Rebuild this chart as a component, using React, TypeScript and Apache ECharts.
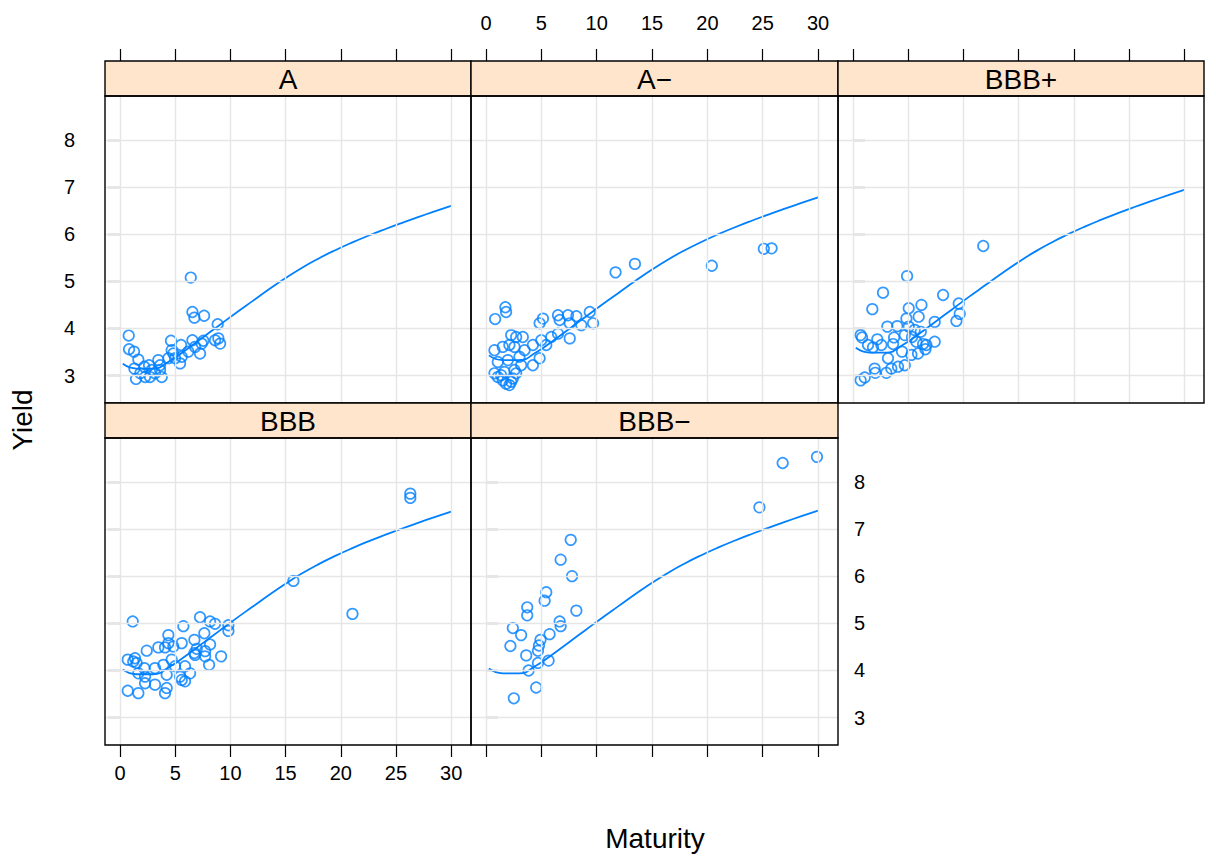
import React, { useEffect, useRef } from "react";
import * as echarts from "echarts";

// ---- data ----
const panelNames = ["A", "A\u2212", "BBB+", "BBB", "BBB\u2212"];
const xTicks = [0, 5, 10, 15, 20, 25, 30];
const yTicks = [3, 4, 5, 6, 7, 8];

const pointsA: [number, number][] = [
  [6.41, 5.08], [6.56, 4.35], [6.74, 4.23], [7.62, 4.27], [8.85, 4.09], [0.79, 3.85], [0.82, 3.56],
  [1.27, 3.51], [1.45, 2.93], [1.66, 3.34], [1.3, 3.15], [1.84, 3.05], [2.2, 3.19], [2.63, 3.22],
  [2.72, 2.97], [2.87, 3.12], [3.47, 3.33], [3.63, 3.22], [3.78, 2.97], [3.63, 3.12], [4.62, 3.74],
  [4.68, 3.54], [4.83, 3.47], [4.99, 3.37], [5.44, 3.26], [5.53, 3.65], [5.59, 3.4], [6.19, 3.51],
  [6.56, 3.75], [6.8, 3.61], [7.25, 3.47], [7.4, 3.68], [7.55, 3.74], [8.61, 3.75], [8.91, 3.79],
  [9.07, 3.68], [2.27, 2.97], [3.17, 3.05], [4.38, 3.37],
];
const pointsAminus: [number, number][] = [
  [0.82, 4.2], [1.75, 4.45], [1.81, 4.35], [4.84, 4.11], [5.14, 4.21], [6.5, 4.28], [6.65, 4.18],
  [7.4, 4.28], [7.56, 4.11], [8.16, 4.26], [8.61, 4.07], [9.37, 4.35], [9.67, 4.11], [2.27, 3.86],
  [2.72, 3.82], [3.32, 3.82], [0.76, 3.54], [1.51, 3.61], [2.11, 3.65], [2.57, 3.61], [3.48, 3.54],
  [4.23, 3.65], [4.99, 3.75], [5.44, 3.65], [5.89, 3.82], [6.5, 3.89], [7.56, 3.79], [1.06, 3.29],
  [1.97, 3.33], [3.02, 3.4], [3.17, 3.22], [4.23, 3.22], [4.84, 3.37], [0.76, 3.05], [1.06, 2.97],
  [1.51, 2.9], [1.81, 2.83], [2.11, 2.8], [2.42, 2.94], [1.66, 3.08], [2.57, 3.12], [1.36, 3.01],
  [2.27, 2.87], [2.72, 3.05], [11.7, 5.19], [13.45, 5.37], [20.4, 5.33], [25.1, 5.69], [25.8, 5.7],
];
const pointsBBBplus: [number, number][] = [
  [11.8, 5.75], [4.9, 5.11], [2.72, 4.76], [8.16, 4.71], [1.75, 4.41], [5.05, 4.43], [6.2, 4.5],
  [9.58, 4.53], [9.67, 4.31], [9.37, 4.16], [5.95, 4.25], [7.4, 4.14], [4.84, 4.21], [3.11, 4.04],
  [4.01, 4.05], [5.05, 4.04], [5.59, 3.97], [6.14, 3.93], [0.69, 3.86], [0.82, 3.81], [2.2, 3.77],
  [3.72, 3.81], [4.69, 3.86], [5.35, 3.82], [1.36, 3.65], [1.81, 3.6], [2.57, 3.65], [3.63, 3.67],
  [5.74, 3.72], [6.35, 3.67], [7.4, 3.72], [6.56, 3.56], [4.44, 3.51], [3.17, 3.37], [5.29, 3.44],
  [5.89, 3.47], [1.96, 3.15], [3.02, 3.06], [3.47, 3.15], [4.08, 3.19], [4.69, 3.22], [0.69, 2.9],
  [1.06, 2.96], [2.02, 3.06], [6.65, 3.65],
];
const pointsBBB: [number, number][] = [
  [1.15, 5.04], [7.25, 5.13], [8.16, 5.04], [8.61, 4.99], [9.82, 4.96], [9.82, 4.84], [5.74, 4.94],
  [7.64, 4.79], [4.38, 4.75], [6.74, 4.65], [4.38, 4.58], [5.59, 4.58], [3.47, 4.49], [4.08, 4.49],
  [4.83, 4.51], [2.42, 4.42], [8.16, 4.55], [6.95, 4.46], [6.74, 4.37], [7.71, 4.41], [9.16, 4.3],
  [0.7, 4.23], [1.36, 4.26], [1.51, 4.16], [7.71, 4.3], [6.8, 4.33], [4.68, 4.23], [3.93, 4.12],
  [5.89, 4.09], [8.07, 4.12], [2.2, 4.05], [3.17, 4.05], [4.99, 4.09], [1.66, 3.94], [2.27, 3.87],
  [4.23, 3.91], [5.44, 3.87], [6.35, 3.94], [2.27, 3.73], [5.89, 3.77], [5.59, 3.8], [0.7, 3.57],
  [1.66, 3.52], [4.08, 3.52], [4.23, 3.63], [3.17, 3.7], [1.2, 4.19], [26.3, 7.75], [26.3, 7.66],
  [15.71, 5.9], [21.06, 5.2],
];
const pointsBBBminus: [number, number][] = [
  [7.65, 6.77], [6.74, 6.35], [7.77, 6.0], [5.44, 5.66], [5.29, 5.48], [3.72, 5.34], [3.72, 5.17],
  [8.16, 5.27], [6.65, 5.04], [6.74, 4.94], [2.42, 4.9], [3.17, 4.75], [5.74, 4.77], [4.92, 4.65],
  [4.78, 4.53], [2.2, 4.52], [4.69, 4.42], [3.63, 4.32], [5.65, 4.21], [4.69, 4.16], [3.84, 4.0],
  [4.53, 3.64], [2.51, 3.41], [24.7, 7.46], [26.8, 8.4], [29.9, 8.53],
];

const curveX = [0.25, 1.5, 3, 4.5, 6, 7.5, 9, 10.5, 12, 13.5, 15, 16.5, 18, 19.5, 21, 22.5, 24, 25.5, 27, 28.5, 30];
const curveA = [3.25, 3.15, 3.15, 3.31, 3.55, 3.81, 4.07, 4.33, 4.58, 4.83, 5.07, 5.29, 5.485, 5.66, 5.82, 5.967, 6.105, 6.236, 6.361, 6.482, 6.6];
const curveAminus = [3.43, 3.33, 3.33, 3.49, 3.73, 3.99, 4.25, 4.51, 4.76, 5.01, 5.25, 5.47, 5.665, 5.84, 6.0, 6.147, 6.285, 6.416, 6.541, 6.662, 6.78];
const curveBBBplus = [3.59, 3.49, 3.49, 3.65, 3.89, 4.15, 4.41, 4.67, 4.92, 5.17, 5.41, 5.63, 5.825, 6.0, 6.16, 6.307, 6.445, 6.576, 6.701, 6.822, 6.94];
const curveBBB = [4.02, 3.92, 3.92, 4.08, 4.32, 4.58, 4.84, 5.1, 5.35, 5.6, 5.84, 6.06, 6.255, 6.43, 6.59, 6.737, 6.875, 7.006, 7.131, 7.252, 7.37];
const curveBBBminus = [4.04, 3.94, 3.94, 4.1, 4.34, 4.6, 4.86, 5.12, 5.37, 5.62, 5.86, 6.08, 6.275, 6.45, 6.61, 6.757, 6.895, 7.026, 7.151, 7.272, 7.39];

const panelPoints = [pointsA, pointsAminus, pointsBBBplus, pointsBBB, pointsBBBminus];
const panelCurves = [curveA, curveAminus, curveBBBplus, curveBBB, curveBBBminus];

const xLabel = "Maturity";
const yLabel = "Yield";

// ---- layout ----
const X_MIN = -1.36;
const X_MAX = 31.8;
const Y_MIN = 2.42;
const Y_MAX = 8.93;
const FONT = "'Liberation Sans', Arial, Helvetica, sans-serif";
const BLUE = "#0080ff";
const TICK_FS = 20;
const BIG_FS = 28;

type Layout = {
  left: number; top: number; w: number; h: number; strip: number;
  xPos: "top" | "bottom"; xTick: boolean; xLab: boolean;
  yPos: "left" | "right"; yTick: boolean; yLab: boolean;
};
const layouts: Layout[] = [
  { left: 105, top: 96, w: 366, h: 307, strip: 35, xPos: "top", xTick: true, xLab: false, yPos: "left", yTick: true, yLab: true },
  { left: 471, top: 96, w: 367, h: 307, strip: 35, xPos: "top", xTick: true, xLab: true, yPos: "left", yTick: false, yLab: false },
  { left: 838, top: 96, w: 366, h: 307, strip: 35, xPos: "top", xTick: true, xLab: false, yPos: "right", yTick: true, yLab: false },
  { left: 105, top: 438, w: 366, h: 307, strip: 35, xPos: "bottom", xTick: true, xLab: true, yPos: "left", yTick: true, yLab: false },
  { left: 471, top: 438, w: 367, h: 307, strip: 35, xPos: "bottom", xTick: true, xLab: false, yPos: "right", yTick: true, yLab: true },
];

function buildOption() {
  const grid: any[] = [];
  const xAxis: any[] = [];
  const yAxis: any[] = [];
  const series: any[] = [];
  const graphic: any[] = [];

  layouts.forEach((L, i) => {
    grid.push({ left: L.left, top: L.top, width: L.w, height: L.h, containLabel: false, outerBoundsMode: "none" });
    xAxis.push({
      type: "value", gridIndex: i, min: X_MIN, max: X_MAX, position: L.xPos,
      offset: L.xPos === "top" ? L.strip : 0,
      axisLine: { show: false },
      axisTick: { show: L.xTick, inside: false, length: 12, customValues: xTicks, lineStyle: { color: "#000", width: 1.2 } },
      axisLabel: { show: L.xLab, customValues: xTicks, margin: L.xPos === "top" ? 28 : 18, fontSize: TICK_FS, color: "#000", fontFamily: FONT },
      splitLine: { show: false },
    });
    yAxis.push({
      type: "value", gridIndex: i, min: Y_MIN, max: Y_MAX, position: L.yPos,
      axisLine: { show: false },
      axisTick: { show: L.yTick, inside: false, length: 12, customValues: yTicks, lineStyle: { color: "#000", width: 1.2 } },
      axisLabel: { show: L.yLab, customValues: yTicks, margin: L.yPos === "left" ? 30 : 16, fontSize: TICK_FS, color: "#000", fontFamily: FONT },
      splitLine: { show: false },
    });
    series.push({
      type: "line", xAxisIndex: i, yAxisIndex: i, data: [], z: 1, silent: true,
      markLine: {
        silent: true, symbol: ["none", "none"], label: { show: false },
        lineStyle: { color: "#e6e6e6", width: 1.4, type: "solid" },
        emphasis: { disabled: true },
        data: [...xTicks.map((v) => ({ xAxis: v })), ...yTicks.map((v) => ({ yAxis: v }))],
      },
    });
    series.push({
      type: "line", xAxisIndex: i, yAxisIndex: i, z: 3, smooth: 0.5, showSymbol: false, silent: true,
      lineStyle: { color: BLUE, width: 1.8 },
      data: curveX.map((x, k) => [x, panelCurves[i][k]]),
    });
    series.push({
      type: "scatter", xAxisIndex: i, yAxisIndex: i, z: 4, symbol: "circle", symbolSize: 10.5, silent: true,
      itemStyle: { color: "rgba(0,0,0,0)", borderColor: BLUE, borderWidth: 1.7 },
      data: panelPoints[i],
    });
    graphic.push({
      type: "rect", z: 10, silent: true,
      shape: { x: L.left, y: L.top - L.strip, width: L.w, height: L.strip },
      style: { fill: "#ffe5cc", stroke: "#000", lineWidth: 1.4 },
    });
    graphic.push({
      type: "text", z: 11, silent: true, x: L.left + L.w / 2, y: L.top - L.strip / 2 + 1,
      style: { text: panelNames[i], fill: "#000", font: `${BIG_FS}px ${FONT}`, textAlign: "center", textVerticalAlign: "middle", align: "center", verticalAlign: "middle" },
    });
    graphic.push({
      type: "rect", z: 10, silent: true,
      shape: { x: L.left, y: L.top, width: L.w, height: L.h },
      style: { fill: "none", stroke: "#000", lineWidth: 1.4 },
    });
  });

  graphic.push({
    type: "text", z: 11, silent: true, x: 655, y: 838,
    style: { text: xLabel, fill: "#000", font: `${BIG_FS}px ${FONT}`, textAlign: "center", textVerticalAlign: "middle", align: "center", verticalAlign: "middle" },
  });
  graphic.push({
    type: "text", z: 11, silent: true, x: 22, y: 420, rotation: Math.PI / 2,
    style: { text: yLabel, fill: "#000", font: `${BIG_FS}px ${FONT}`, textAlign: "center", textVerticalAlign: "middle", align: "center", verticalAlign: "middle" },
  });

  return { animation: false, backgroundColor: "#fff", grid, xAxis, yAxis, series, graphic };
}

export default function App() {
  const ref = useRef<HTMLDivElement>(null);
  useEffect(() => {
    if (!ref.current) return;
    const chart = echarts.init(ref.current, null, { renderer: "svg" });
    chart.setOption(buildOption() as any);
    return () => chart.dispose();
  }, []);
  return <div ref={ref} style={{ position: "absolute", left: 0, top: 0, width: 1216, height: 858, background: "#fff" }} />;
}
